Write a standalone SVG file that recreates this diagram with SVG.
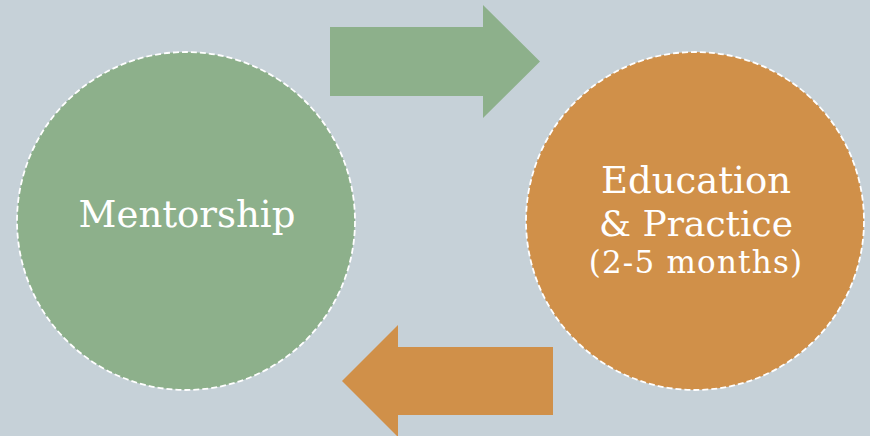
<svg xmlns="http://www.w3.org/2000/svg" width="870" height="436" viewBox="0 0 870 436">
<style>
.circle{stroke:#ffffff;stroke-width:1.8;stroke-dasharray:6 3}
.lbl{font-family:"DejaVu Serif","Liberation Serif",serif;fill:#ffffff;text-anchor:middle}
</style>
<rect width="870" height="436" fill="#c6d1d8"/>
<g id="connectors">
<polygon fill="#8db08b" points="330,27 483,27 483,5 540,61.5 483,118 483,96 330,96"/>
<polygon fill="#d09049" points="553,347 398,347 398,325 342,381 398,437 398,415 553,415"/>
</g>
<g id="mentorship">
<circle class="circle" cx="186" cy="221" r="169" fill="#8db08b"/>
<text class="lbl" x="187" y="227" font-size="37">Mentorship</text>
</g>
<g id="education">
<circle class="circle" cx="695" cy="221" r="169" fill="#d09049"/>
<text class="lbl" x="696" y="193" font-size="37">Education</text>
<text class="lbl" x="696" y="236" font-size="36">&amp; Practice</text>
<text class="lbl" x="696" y="273" font-size="31" letter-spacing="1.2">(2-5 months)</text>
</g>
</svg>
